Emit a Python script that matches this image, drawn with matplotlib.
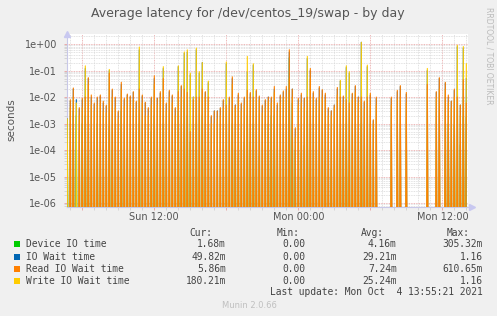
import numpy as np
import matplotlib
matplotlib.use("Agg")
import matplotlib.pyplot as plt
from matplotlib.ticker import LogLocator, FuncFormatter, MultipleLocator, NullFormatter
from matplotlib.patches import Rectangle

# ---- data (seconds): spike height of each 15-minute sample, starting Sun 04:45.
# Between these samples the 5-minute RRD values fall back to zero.
start_hour = 4.75
step_hour = 0.25
sub_steps = 3  # 5-minute RRD steps per 15-minute sample

device_io = [
    1e-3, 0, 3e-3, 2e-3, 0, 1e-3, 2e-3, 6e-5, 0, 0,
    1e-3, 0, 0, 0, 8e-4, 1e-4, 0, 0, 3e-3, 0,
    5e-5, 0, 0, 0, 1e-3, 0, 0, 0, 5e-4, 2e-3,
    4e-5, 0, 1e-3, 0, 0, 0, 0, 3e-3, 0, 8e-3,
    2e-3, 2e-4, 0, 1e-3, 0, 2e-3, 0, 0, 0, 0,
    0, 0, 0, 0, 0, 1e-3, 1e-4, 5e-5, 0, 2e-4,
    2e-3, 2e-4, 1e-3, 0, 6e-5, 0, 0, 1e-3, 2e-3, 2e-3,
    0, 0, 0, 7e-5, 0.305, 6e-3, 1e-4, 0, 8e-5, 1.5e-4,
    3e-3, 1.5e-5, 0, 0, 0, 0, 4e-5, 0, 2e-5, 0,
    0, 5e-5, 1e-4, 1e-3, 1.5e-5, 0, 0, 0, 1e-3, 0,
    1e-4, 0, 0, 0, 0, 0, 0, 0, 0, 0,
    0, 0, 0, 0, 0, 0, 0, 0, 0, 0,
    0, 0, 0, 0, 0, 0, 7e-5, 1e-3, 0, 9e-4,
    0, 1.6e-4, 1.8e-3, 1.68e-3,
]
io_wait = [
    1.5e-3, 0.007, 0.02, 0.008, 0.0036, 0.008, 0.12, 0.05, 0.01, 0.0054,
    0.009, 0.011, 0.006, 0.0045, 0.1, 0.018, 0.009, 0.0027, 0.03, 0.008,
    0.012, 0.01, 0.015, 0.0063, 0.6, 0.011, 0.006, 0.0036, 0.009, 0.05,
    0.009, 0.014, 0.12, 0.0054, 0.016, 0.011, 0.0036, 0.14, 0.025, 0.45,
    0.5, 0.07, 0.01, 0.6, 0.08, 0.2, 0.015, 0.035, 0.0018, 0.003,
    0.003, 0.0036, 0.0072, 0.18, 0.009, 0.05, 0.005, 0.012, 0.0054, 0.009,
    0.09, 0.0135, 0.16, 0.017, 0.01, 0.0045, 0.0072, 0.01, 0.009, 0.02,
    0.005, 0.011, 0.015, 0.02, 0.5, 0.02, 6e-4, 0.008, 0.012, 0.009,
    0.28, 0.1, 0.014, 0.008, 0.022, 0.018, 0.012, 0.0036, 0.003, 0.005,
    0.02, 0.04, 0.01, 0.13, 0.08, 0.013, 0.025, 0.01, 1.16, 0.0063,
    0.14, 0.012, 1.3e-3, 0.009, 0, 0, 0, 0, 0.009, 0,
    0.016, 0.025, 0, 0.013, 0, 0, 0, 0, 0, 0,
    0.1, 0, 0, 0.015, 0.05, 0, 0.034, 0.01, 0.007, 0.018,
    0.8, 0.005, 0.7, 0.0498,
]
read_wait = [
    0, 0.008, 0.022, 0, 0.004, 0.009, 0.01, 0.054, 0.012, 0.006,
    0.01, 0.012, 0.007, 0.005, 0.08, 0.02, 0.01, 0.003, 0.036, 0.009,
    0.013, 0.011, 0.016, 0.007, 0.02, 0.012, 0.0064, 0.004, 0.01, 0.064,
    0.009, 0.016, 0.05, 0.006, 0.018, 0.012, 0.004, 0.016, 0.027, 0.02,
    0.015, 5e-4, 0.008, 0.01, 0.01, 0.02, 0.016, 0.01, 0.002, 0.003,
    0.003, 0.004, 0.008, 0.005, 0.01, 0.058, 0.005, 0.014, 0.006, 0.01,
    0.018, 0.015, 0.01, 0.019, 0.011, 0.005, 0.008, 0.01, 0.01, 0.025,
    0.006, 0.012, 0.017, 0.025, 0.61, 0.02, 7e-4, 0.009, 0.014, 0.009,
    0.01, 0.12, 0.016, 0.009, 0.025, 0.019, 0.014, 0.004, 0.003, 0.005,
    0.023, 0.01, 0.011, 0.008, 0.006, 0.014, 0.027, 0.01, 0.01, 0.007,
    0.01, 0.014, 1.4e-3, 0.01, 0, 0, 0, 0, 0.01, 0,
    0.018, 0.027, 0, 0.015, 0, 0, 0, 0, 0, 0,
    0.03, 0, 0, 0.016, 0.054, 0, 0.036, 0.012, 0.007, 0.02,
    0.01, 0.005, 0.045, 0.00586,
]
write_wait = [
    1.5e-3, 0.004, 0.01, 0.006, 0.002, 0.004, 0.15, 0.03, 0.005, 0.003,
    0.005, 0.006, 0.003, 0.0025, 0.11, 0.01, 0.004, 0.0015, 0.02, 0.0045,
    0.01, 0.005, 0.008, 0.0035, 0.77, 0.006, 0.002, 0.002, 0.005, 0.03,
    0.005, 0.01, 0.14, 0.003, 0.01, 0.006, 0.002, 0.15, 0.01, 0.5,
    0.6, 0.08, 0.01, 0.7, 0.09, 0.2, 0.01, 0.04, 0.001, 0.001,
    0.0015, 0.002, 0.004, 0.21, 0.005, 0.03, 0.004, 0.008, 0.003, 0.005,
    0.34, 0.0075, 0.18, 0.01, 0.008, 0.0025, 0.004, 0.007, 0.006, 0.015,
    0.003, 0.006, 0.01, 0.01, 0.05, 0.01, 3e-4, 0.005, 0.006, 0.004,
    0.34, 0.05, 0.01, 0.0045, 0.01, 0.01, 0.008, 0.002, 0.002, 0.004,
    0.012, 0.043, 0.0055, 0.15, 0.09, 0.008, 0.015, 0.006, 1.16, 0.0035,
    0.16, 0.005, 0.001, 0.005, 0, 0, 0, 0, 0.005, 0,
    0.008, 0.01, 0, 0.006, 0, 0, 0, 0, 0, 0,
    0.12, 0, 0, 0.01, 0.02, 0, 0.02, 0.006, 0.004, 0.01,
    0.9, 0.002, 0.8, 0.18,
]

series_names = ["Device IO time", "IO Wait time", "Read IO Wait time", "Write IO Wait time"]
series_colors = ["#00CC00", "#0066B3", "#FF8000", "#FFCC00"]
cur_vals = ["1.68m", "49.82m", "5.86m", "180.21m"]
min_vals = ["0.00", "0.00", "0.00", "0.00"]
avg_vals = ["4.16m", "29.21m", "7.24m", "25.24m"]
max_vals = ["305.32m", "1.16", "610.65m", "1.16"]
x_tick_labels = {12: "Sun 12:00", 24: "Mon 00:00", 36: "Mon 12:00"}
title = "Average latency for /dev/centos_19/swap - by day"
last_update = "Last update: Mon Oct  4 13:55:21 2021"

# ---- figure ----
W, H = 497, 316
fig = plt.figure(figsize=(W / 100, H / 100), dpi=100, facecolor="#F0F0F0")

def fx(x):
    return x / W

def fy(y):
    return 1 - y / H

ax_l, ax_r, ax_t, ax_b = 67, 468, 34, 206.7
ax = fig.add_axes([fx(ax_l), fy(ax_b), (ax_r - ax_l) / W, (ax_b - ax_t) / H])
ax.set_facecolor("white")
ax.set_yscale("log")

n = len(device_io)
m = sub_steps * (n - 1) + 1
t_full = start_hour + (step_hour / sub_steps) * np.arange(m)
all_series = [device_io, io_wait, read_wait, write_wait]
# draw green, blue, yellow, then orange (orange dominates the reference)
draw_order = [0, 1, 3, 2]
for z, k in enumerate(draw_order):
    full = np.zeros(m)
    full[::sub_steps] = np.asarray(all_series[k], dtype=float)
    full = np.where(full > 0, full, 1e-12)
    ax.plot(t_full, full, color=series_colors[k], lw=0.8, zorder=3 + z * 0.01)

ax.set_xlim(4.725, 38.14)
ax.set_ylim(7.4e-7, 2.38)

# grid
ax.yaxis.set_major_locator(LogLocator(base=10, numticks=20))
ax.yaxis.set_minor_locator(LogLocator(base=10, subs=np.arange(2, 10), numticks=50))
ax.yaxis.set_major_formatter(FuncFormatter(lambda v, p: f"{v:.0e}"))
ax.yaxis.set_minor_formatter(NullFormatter())
ax.xaxis.set_major_locator(MultipleLocator(6))
ax.xaxis.set_minor_locator(MultipleLocator(1))
ax.xaxis.set_major_formatter(FuncFormatter(lambda v, p: x_tick_labels.get(int(round(v)), "")))

ax.grid(which="minor", color="#D8D8D8", lw=0.6, ls=(0, (1, 1)), zorder=1)
ax.grid(which="major", color="#E8A0A0", lw=0.6, ls=(0, (1, 1)), zorder=1.5)

ax.tick_params(axis="both", which="major", length=2, width=0.6, color="#E8A0A0",
               labelsize=7, labelcolor="#555555", pad=2)
ax.tick_params(axis="both", which="minor", length=2, width=0.6, color="#D0D0D0")
ax.tick_params(axis="y", pad=5)

for s in ["top", "right"]:
    ax.spines[s].set_visible(False)
for s in ["left", "bottom"]:
    ax.spines[s].set_color("#C8C8E8")
    ax.spines[s].set_linewidth(0.8)

# axis arrows
ax.plot([0], [1.0], marker="^", ms=4, color="#C8C8F0", transform=ax.transAxes, clip_on=False, zorder=5)
ax.plot([1.01], [0], marker=">", ms=4, color="#C8C8F0", transform=ax.transAxes, clip_on=False, zorder=5)

# texts
fig.text(fx(248), fy(14), title, ha="center", va="center", fontsize=9, color="#555555")
fig.text(fx(11), fy(120), "seconds", rotation=90, ha="center", va="center", fontsize=7.5, color="#555555")
fig.text(fx(489), fy(56), "RRDTOOL / TOBI OETIKER", rotation=270, ha="center", va="center",
         fontsize=5.5, color="#BBBBBB")

mono = dict(fontfamily="DejaVu Sans Mono", fontsize=6.9, color="#444444", va="center")
header_y = 232.7
fig.text(fx(212.7), fy(header_y), "Cur:", ha="right", **mono)
fig.text(fx(299.3), fy(header_y), "Min:", ha="right", **mono)
fig.text(fx(384), fy(header_y), "Avg:", ha="right", **mono)
fig.text(fx(470), fy(header_y), "Max:", ha="right", **mono)
row_y = [244.3, 256.5, 268.6, 280.7]
for i, name in enumerate(series_names):
    y = row_y[i]
    fig.add_artist(Rectangle((fx(14), fy(y + 3)), 6 / W, 6 / H, transform=fig.transFigure,
                             facecolor=series_colors[i], edgecolor="none"))
    fig.text(fx(26), fy(y), name, ha="left", **mono)
    fig.text(fx(226), fy(y), cur_vals[i], ha="right", **mono)
    fig.text(fx(305.3), fy(y), min_vals[i], ha="right", **mono)
    fig.text(fx(396.7), fy(y), avg_vals[i], ha="right", **mono)
    fig.text(fx(482.7), fy(y), max_vals[i], ha="right", **mono)
fig.text(fx(482.7), fy(292.3), last_update, ha="right", **mono)
fig.text(fx(249), fy(305), "Munin 2.0.66", ha="center", va="center", fontsize=6, color="#C0C0C0")

fig.savefig("out.png", dpi=100, facecolor=fig.get_facecolor())
